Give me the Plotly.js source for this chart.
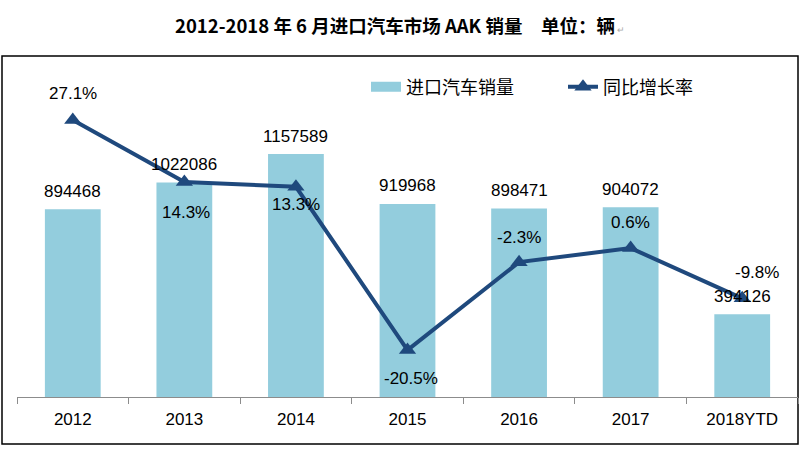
<!DOCTYPE html>
<html>
<head>
<meta charset="utf-8">
<script src="https://cdn.plot.ly/plotly-3.0.1.min.js"></script>
<style>
  html, body { margin: 0; padding: 0; background: #ffffff; }
  #chart { width: 800px; height: 450px; }
</style>
</head>
<body>
<div id="chart"></div>
<script>
// ---- data ----
var years = ['2012', '2013', '2014', '2015', '2016', '2017', '2018YTD'];
var sales = [894468, 1022086, 1157589, 919968, 898471, 904072, 394126];
var growth = [27.1, 14.3, 13.3, -20.5, -2.3, 0.6, -9.8];
var salesName = '进口汽车销量';
var growthName = '同比增长率';
var titleText = '2012-2018 年 6 月进口汽车市场 AAK 销量\u3000单位：辆';

// ---- label placement (styling, not data) ----
var growthLabelDy = [27, -31, -18, -28, 25, 26, 26];
var growthLabelDx = [0, 2, 0, 3, 0, 0, 15];

var barColor = '#93CDDD';
var lineColor = '#1F497D';
var numFont = 'Liberation Sans, Arial, sans-serif';
var cjkFont = '"Noto Sans CJK SC", "Noto Sans", sans-serif';

var traces = [
  {
    type: 'bar', x: years, y: sales, name: salesName,
    marker: { color: barColor }, showlegend: false, hoverinfo: 'x+y'
  },
  {
    // legend swatch for the bar series (draws nothing on the plot)
    type: 'scatter', mode: 'lines', x: [years[0]], y: [null], name: salesName,
    line: { color: barColor, width: 10 }, showlegend: true, hoverinfo: 'skip'
  },
  {
    type: 'scatter', mode: 'lines+markers', x: years, y: growth, yaxis: 'y2', name: growthName,
    line: { color: lineColor, width: 4 },
    marker: { symbol: 'triangle-up', size: 15, color: lineColor },
    cliponaxis: false
  }
];

var annotations = [];
years.forEach(function (yr, i) {
  annotations.push({
    x: i, y: sales[i], xref: 'x', yref: 'y', text: String(sales[i]),
    showarrow: false, yanchor: 'middle', yshift: 18,
    font: { family: numFont, size: 17, color: '#000' }
  });
  annotations.push({
    x: i, y: growth[i], xref: 'x', yref: 'y2', text: growth[i].toFixed(1) + '%',
    showarrow: false, yanchor: 'middle', yshift: growthLabelDy[i], xshift: growthLabelDx[i],
    font: { family: numFont, size: 17, color: '#000' }
  });
});

var layout = {
  width: 800, height: 450,
  margin: { l: 17, r: 2, t: 60, b: 53 },
  paper_bgcolor: '#ffffff', plot_bgcolor: 'rgba(0,0,0,0)',
  title: {
    text: titleText + '<span style="font-size:9px;fill:#aaaaaa;font-weight:normal"> \u21B5</span>',
    x: 0.5, xanchor: 'center', y: 1 - 27 / 450, yanchor: 'middle',
    font: { family: cjkFont, size: 18.5, color: '#000', weight: 'bold' }
  },
  bargap: 0.5,
  xaxis: {
    type: 'category', categoryorder: 'array', categoryarray: years,
    range: [-0.5, years.length - 0.5], autorange: false,
    showgrid: false, zeroline: false,
    showline: true, linecolor: '#8c8c8c', linewidth: 1,
    ticks: 'outside', tickson: 'boundaries', ticklen: 6, tickcolor: '#8c8c8c', tickwidth: 1,
    tickangle: 0, ticklabelstandoff: 7,
    tickfont: { family: numFont, size: 17, color: '#000' }
  },
  yaxis: { range: [0, 1605900], visible: false, showgrid: false, zeroline: false, fixedrange: true },
  yaxis2: { range: [-30.21, 39.53], overlaying: 'y', side: 'right', visible: false, showgrid: false, zeroline: false },
  legend: {
    orientation: 'h', x: (366 - 17) / 781, xanchor: 'left', y: (397 - 87) / 337, yanchor: 'middle',
    bgcolor: 'rgba(0,0,0,0)', font: { family: cjkFont, size: 18, color: '#000' },
    traceorder: 'normal', itemclick: false, entrywidth: 152
  },
  shapes: [{
    type: 'rect', xref: 'paper', yref: 'paper',
    x0: (2 - 17) / 781, x1: (798 - 17) / 781,
    y0: (397 - 444) / 337, y1: (397 - 56) / 337,
    line: { color: '#000', width: 1.5 }, fillcolor: 'rgba(0,0,0,0)', layer: 'below'
  }],
  annotations: annotations,
  showlegend: true
};

Plotly.newPlot('chart', traces, layout, { displayModeBar: false, staticPlot: true });
</script>
</body>
</html>
